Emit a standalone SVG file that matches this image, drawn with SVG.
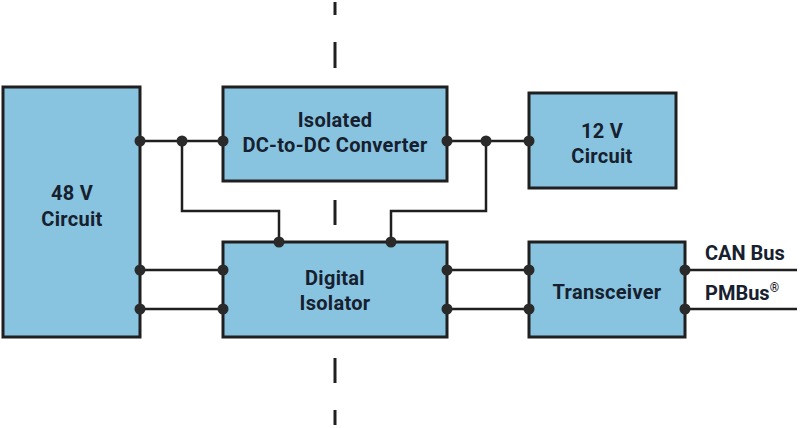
<svg xmlns="http://www.w3.org/2000/svg" width="800" height="428" viewBox="0 0 800 428">
<style>
.box{fill:#88c4e0;stroke:#1f1f1f;stroke-width:3}
.ln{fill:none;stroke:#1f1f1f;stroke-width:2.5}
.dash{stroke:#1f1f1f;stroke-width:3}
.dot{fill:#2a2a2a}
.t{font-family:Roboto,"Liberation Sans",sans-serif;font-weight:bold;font-size:20px;letter-spacing:0.3px;fill:#16202e;text-anchor:middle}
.lbl{font-family:Roboto,"Liberation Sans",sans-serif;font-weight:bold;font-size:20px;fill:#16202e}
</style>
<rect width="800" height="428" fill="#ffffff"/>
<g id="isolation-barrier">
<line class="dash" x1="335" y1="2" x2="335" y2="15"/>
<line class="dash" x1="335" y1="42" x2="335" y2="68"/>
<line class="dash" x1="335" y1="200" x2="335" y2="225"/>
<line class="dash" x1="335" y1="358" x2="335" y2="383"/>
<line class="dash" x1="335" y1="410" x2="335" y2="425"/>
</g>
<g id="connectors">
<path class="ln" d="M140 141 H223"/>
<path class="ln" d="M182 141 V211 H279 V242"/>
<path class="ln" d="M447 141 H529"/>
<path class="ln" d="M486 141 V211 H391 V242"/>
<path class="ln" d="M140 270 H223"/>
<path class="ln" d="M140 309 H223"/>
<path class="ln" d="M447 270 H529"/>
<path class="ln" d="M447 309 H529"/>
<path class="ln" d="M685 270 H797"/>
<path class="ln" d="M685 309 H797"/>
</g>
<g id="n48v">
<rect class="box" x="3" y="87" width="137" height="250"/>
<text class="t" x="72" y="200">48 V</text>
<text class="t" x="72" y="226">Circuit</text>
</g>
<g id="dcdc">
<rect class="box" x="223" y="87" width="224" height="94"/>
<text class="t" x="335" y="127">Isolated</text>
<text class="t" x="335" y="152">DC-to-DC Converter</text>
</g>
<g id="n12v">
<rect class="box" x="529" y="93" width="147" height="95"/>
<text class="t" x="602" y="138">12 V</text>
<text class="t" x="602" y="163">Circuit</text>
</g>
<g id="isolator">
<rect class="box" x="223" y="242" width="224" height="95"/>
<text class="t" x="335" y="285">Digital</text>
<text class="t" x="335" y="310">Isolator</text>
</g>
<g id="transceiver">
<rect class="box" x="529" y="242" width="156" height="95"/>
<text class="t" x="607" y="299">Transceiver</text>
</g>
<g id="dots">
<circle class="dot" cx="140" cy="141" r="5.5"/>
<circle class="dot" cx="182" cy="141" r="5.5"/>
<circle class="dot" cx="223" cy="141" r="5.5"/>
<circle class="dot" cx="447" cy="141" r="5.5"/>
<circle class="dot" cx="486" cy="141" r="5.5"/>
<circle class="dot" cx="529" cy="141" r="5.5"/>
<circle class="dot" cx="279" cy="242" r="5.5"/>
<circle class="dot" cx="391" cy="242" r="5.5"/>
<circle class="dot" cx="140" cy="270" r="5.5"/>
<circle class="dot" cx="140" cy="309" r="5.5"/>
<circle class="dot" cx="223" cy="270" r="5.5"/>
<circle class="dot" cx="223" cy="309" r="5.5"/>
<circle class="dot" cx="447" cy="270" r="5.5"/>
<circle class="dot" cx="447" cy="309" r="5.5"/>
<circle class="dot" cx="529" cy="270" r="5.5"/>
<circle class="dot" cx="529" cy="309" r="5.5"/>
<circle class="dot" cx="685" cy="270" r="5.5"/>
<circle class="dot" cx="685" cy="309" r="5.5"/>
</g>
<g id="labels">
<text class="lbl" x="705" y="260">CAN Bus</text>
<text class="lbl" x="705" y="300">PMBus<tspan font-size="12" dy="-8">®</tspan></text>
</g>
</svg>
